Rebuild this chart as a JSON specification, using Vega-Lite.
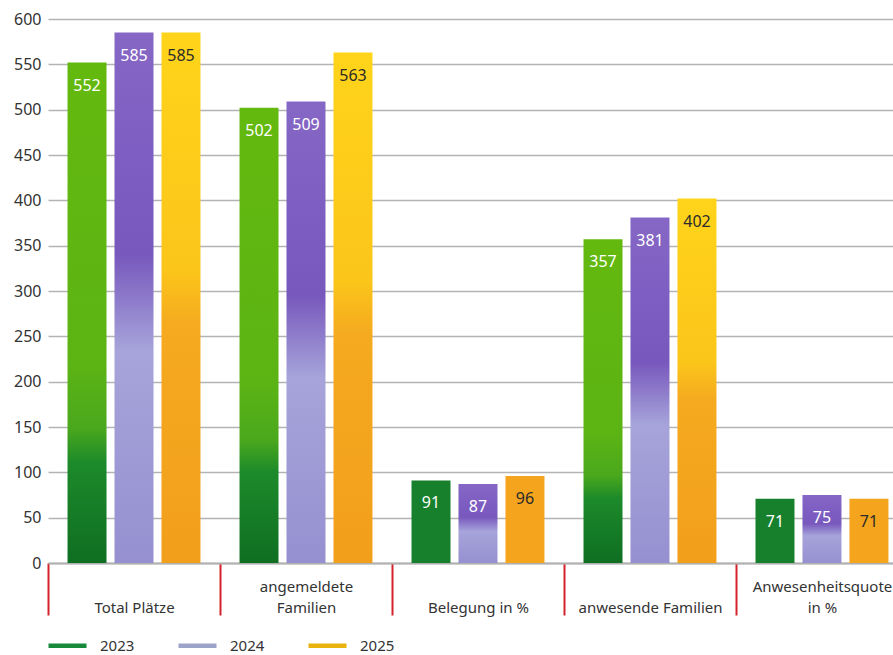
{
  "$schema": "https://vega.github.io/schema/vega-lite/v6.json",
  "width": 845,
  "height": 544,
  "autosize": {"type": "none"},
  "padding": {"left": 48, "top": 19, "right": 0, "bottom": 92},
  "background": "white",
  "config": {
    "font": "Noto Sans",
    "view": {"stroke": null}
  },
  "data": {
    "values": [
      {"cat": "Total Plätze", "year": "2023", "value": 552},
      {"cat": "Total Plätze", "year": "2024", "value": 585},
      {"cat": "Total Plätze", "year": "2025", "value": 585},
      {"cat": "angemeldete Familien", "year": "2023", "value": 502},
      {"cat": "angemeldete Familien", "year": "2024", "value": 509},
      {"cat": "angemeldete Familien", "year": "2025", "value": 563},
      {"cat": "Belegung in %", "year": "2023", "value": 91},
      {"cat": "Belegung in %", "year": "2024", "value": 87},
      {"cat": "Belegung in %", "year": "2025", "value": 96},
      {"cat": "anwesende Familien", "year": "2023", "value": 357},
      {"cat": "anwesende Familien", "year": "2024", "value": 381},
      {"cat": "anwesende Familien", "year": "2025", "value": 402},
      {"cat": "Anwesenheitsquote in %", "year": "2023", "value": 71},
      {"cat": "Anwesenheitsquote in %", "year": "2024", "value": 75},
      {"cat": "Anwesenheitsquote in %", "year": "2025", "value": 71}
    ]
  },
  "encoding": {
    "x": {
      "field": "cat",
      "type": "nominal",
      "sort": null,
      "title": null,
      "scale": {"paddingInner": 0.227, "paddingOuter": 0.07, "align": 0.811},
      "axis": {
        "labelAngle": 0,
        "labelFontSize": 15,
        "labelColor": "#333333",
        "labelBaseline": "middle",
        "labelLineHeight": 21,
        "labelPadding": -29,
        "labelExpr": "datum.value == 'angemeldete Familien' ? ['angemeldete', 'Familien'] : datum.value == 'Anwesenheitsquote in %' ? ['Anwesenheitsquote', 'in %'] : ['', datum.value]",
        "tickOffset": -86,
        "labelOffset": 86,
        "tickColor": "#d2232a",
        "tickWidth": 2,
        "tickSize": 52,
        "domainColor": "#b0b0b0",
        "domainWidth": 2,
        "labelLimit": 300
      }
    },
    "xOffset": {
      "field": "year",
      "type": "nominal",
      "scale": {"paddingInner": 0.17, "paddingOuter": 0}
    },
    "y": {
      "field": "value",
      "type": "quantitative",
      "title": null,
      "scale": {"domain": [0, 600], "nice": false},
      "axis": {
        "values": [0, 50, 100, 150, 200, 250, 300, 350, 400, 450, 500, 550, 600],
        "domain": false,
        "ticks": false,
        "labelFontSize": 16,
        "labelColor": "#333333",
        "labelPadding": 7,
        "gridColor": "#b3b3b3",
        "gridWidth": 1.5
      }
    }
  },
  "layer": [
    {
      "mark": {"type": "bar"},
      "encoding": {
        "fill": {
          "condition": [
            {"test": "datum.year == '2023' && datum.value < 100", "value": "#17802c"},
            {"test": "datum.year == '2023'", "value": {"gradient": "linear", "x1": 0, "y1": 1, "x2": 0, "y2": 0, "stops": [{"offset": 0, "color": "#0f6e22"}, {"offset": 0.2, "color": "#1c8a2a"}, {"offset": 0.27, "color": "#4aa81c"}, {"offset": 0.4, "color": "#5cb414"}, {"offset": 1, "color": "#64b90e"}]}},
            {"test": "datum.year == '2024'", "value": {"gradient": "linear", "x1": 0, "y1": 1, "x2": 0, "y2": 0, "stops": [{"offset": 0, "color": "#9690d0"}, {"offset": 0.4, "color": "#a6a4da"}, {"offset": 0.58, "color": "#7858bd"}, {"offset": 0.75, "color": "#7d5dc1"}, {"offset": 1, "color": "#8667c5"}]}},
            {"test": "datum.value < 100", "value": "#f5a41d"}
          ],
          "value": {"gradient": "linear", "x1": 0, "y1": 1, "x2": 0, "y2": 0, "stops": [{"offset": 0, "color": "#f29f1c"}, {"offset": 0.45, "color": "#f5aa1f"}, {"offset": 0.55, "color": "#fbc51a"}, {"offset": 1, "color": "#ffd41a"}]}
        }
      }
    },
    {
      "mark": {"type": "text", "baseline": "middle", "dy": 23, "fontSize": 16},
      "encoding": {
        "text": {"field": "value", "type": "quantitative"},
        "fill": {
          "condition": {"test": "datum.year == '2025'", "value": "#2b2b2b"},
          "value": "#ffffff"
        }
      }
    },
    {
      "mark": {"type": "point", "opacity": 0},
      "encoding": {
        "x": null,
        "y": null,
        "xOffset": null,
        "color": {
          "field": "year",
          "type": "nominal",
          "scale": {"domain": ["2023", "2024", "2025"], "range": ["#17893a", "#9ca3c8", "#e9b30d"]},
          "legend": {
            "title": null,
            "orient": "none",
            "direction": "horizontal",
            "legendX": -2,
            "legendY": 605,
            "symbolType": "stroke",
            "symbolSize": 1444,
            "symbolStrokeWidth": 4.5,
            "symbolOpacity": 1,
            "labelFontSize": 15,
            "labelColor": "#333333",
            "labelOffset": 11,
            "columnPadding": 34
          }
        }
      }
    }
  ]
}
